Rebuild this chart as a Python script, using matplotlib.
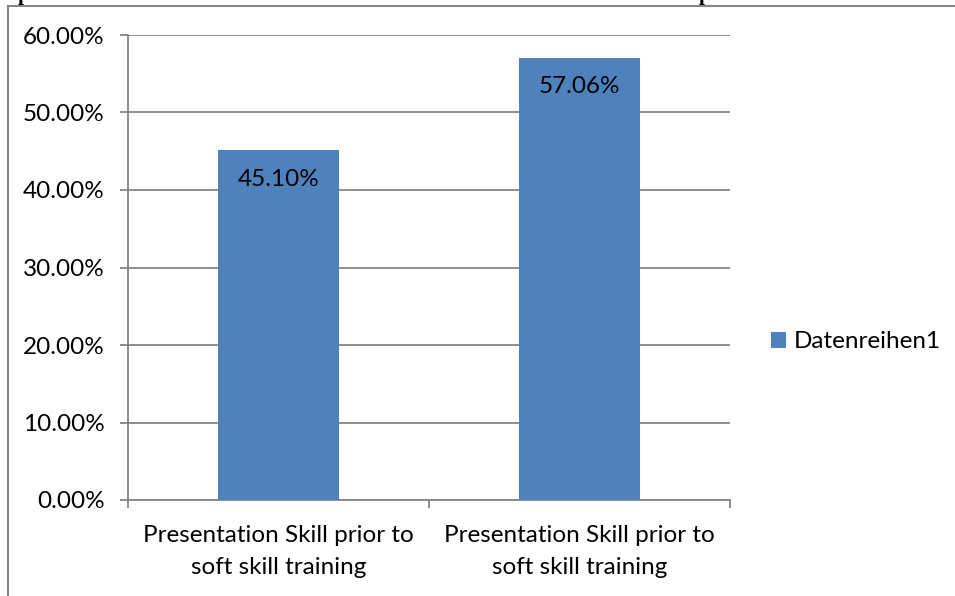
import matplotlib
matplotlib.use("Agg")
import matplotlib.pyplot as plt
from matplotlib.lines import Line2D
from matplotlib.ticker import MultipleLocator, FuncFormatter

# data
categories = ["Presentation Skill prior to\nsoft skill training",
              "Presentation Skill prior to\nsoft skill training"]
values = [0.4510, 0.5706]
series_name = "Datenreihen1"

bar_color = "#4F81BD"
grid_color = "#868686"
font = "Lato"
fs = 17.5

fig = plt.figure(figsize=(9.55, 5.96), dpi=100)
ax = fig.add_axes([128 / 955, 1 - 500 / 596, (730 - 128) / 955, (500 - 35) / 596])

x = list(range(len(categories)))
bars = ax.bar(x, values, width=0.4, color=bar_color, zorder=3, label=series_name)

# value labels inside the top of each bar
for b, v in zip(bars, values):
    ax.annotate(f"{v * 100:.2f}%", (b.get_x() + b.get_width() / 2, v),
                xytext=(0, -29), textcoords="offset pixels",
                ha="center", va="center", fontsize=fs, family=font, color="black")

ax.set_ylim(0, 0.6)
ax.set_xlim(-0.5, len(categories) - 0.5)
ax.yaxis.set_major_locator(MultipleLocator(0.1))
ax.yaxis.set_major_formatter(FuncFormatter(lambda v, p: f"{v * 100:.2f}%"))
ax.grid(axis="y", color=grid_color, lw=1.3, zorder=0)

# category labels between boundary ticks
ax.set_xticks(x)
ax.set_xticklabels(categories, fontsize=fs, family=font, linespacing=1.65)
ax.tick_params(axis="x", length=0, pad=18)
ax.set_xticks([-0.5, 0.5, 1.5], minor=True)
ax.tick_params(axis="x", which="minor", length=6, color=grid_color, width=1.3)
ax.tick_params(axis="y", length=6, color=grid_color, width=1.3, pad=11)
for lab in ax.get_yticklabels():
    lab.set_fontsize(fs)
    lab.set_family(font)

for s in ["top", "right"]:
    ax.spines[s].set_visible(False)
for s in ["left", "bottom"]:
    ax.spines[s].set_color(grid_color)
    ax.spines[s].set_linewidth(1.3)

fig.legend(handles=[bars], labels=[series_name], loc="center left",
           bbox_to_anchor=(754 / 955, 1 - 342 / 596), frameon=False,
           handlelength=0.6, handleheight=0.6, handletextpad=0.35,
           borderpad=0.2, prop={"family": font, "size": fs})

# chart frame (cut off at right and bottom)
fig.add_artist(Line2D([7.5 / 955, 1], [1 - 5.5 / 596] * 2, color=grid_color, lw=1.5,
                      transform=fig.transFigure))
fig.add_artist(Line2D([7.5 / 955] * 2, [0, 1 - 5.5 / 596], color=grid_color, lw=1.5,
                      transform=fig.transFigure))

# clipped title above the frame
for xp in [18, 699]:
    fig.text(xp / 955, 1.0, "p", family="Liberation Serif", weight="bold",
             fontsize=15, ha="left", va="baseline")

fig.savefig("out.png", dpi=100, facecolor="white")
